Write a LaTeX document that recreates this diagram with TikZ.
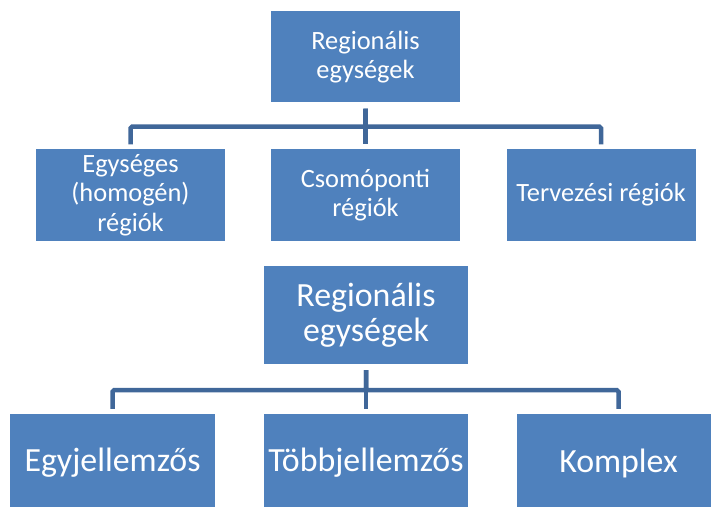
\documentclass[tikz,border=0pt]{standalone}
\usepackage{fontspec}
\setmainfont{Carlito}
\definecolor{regfill}{RGB}{79,129,189}
\definecolor{regline}{RGB}{64,103,153}
\begin{document}
\begin{tikzpicture}[x=1bp,y=-1bp,
    regbox/.style={fill=regfill,text=white,align=center,inner sep=0pt,
      minimum width=189bp,minimum height=91bp},
    bigbox/.style={regbox,minimum width=204bp,minimum height=98bp},
    link/.style={draw=regline,line width=4.5bp,shorten <=6bp,shorten >=5bp,
      rounded corners=1.5bp},
    small/.style={font=\fontsize{26.5}{29.5}\selectfont},
    large/.style={font=\fontsize{34}{35}\selectfont}]
  \useasboundingbox (0,0) rectangle (711,507);
  % upper tree
  \node[regbox,small] (reg) at (365.5,57) {Regionális\\egységek};
  \node[regbox,small] (homogen) at (130.5,195) {Egységes\\(homogén)\\régiók};
  \node[regbox,small] (csomo) at (365.5,195) {Csomóponti\\régiók};
  \node[regbox,small] (terv) at (601,195) {Tervezési régiók};
  \draw[link] (reg.south) -- ++(0,24) -| (homogen.north);
  \draw[link] (reg.south) -- (csomo.north);
  \draw[link] (reg.south) -- ++(0,24) -| (terv.north);
  % lower tree
  \node[bigbox,large] (regb) at (366,315) {Regionális\\egységek};
  \node[bigbox,large] (egy) at (112.5,463) {Egyjellemzős};
  \node[bigbox,large] (tobb) at (366,463) {Többjellemzős};
  \node[bigbox,large] (komplex) at (618.5,463) {Komplex};
  \draw[link] (regb.south) -- ++(0,26) -| (egy.north);
  \draw[link] (regb.south) -- (tobb.north);
  \draw[link] (regb.south) -- ++(0,26) -| (komplex.north);
\end{tikzpicture}
\end{document}
